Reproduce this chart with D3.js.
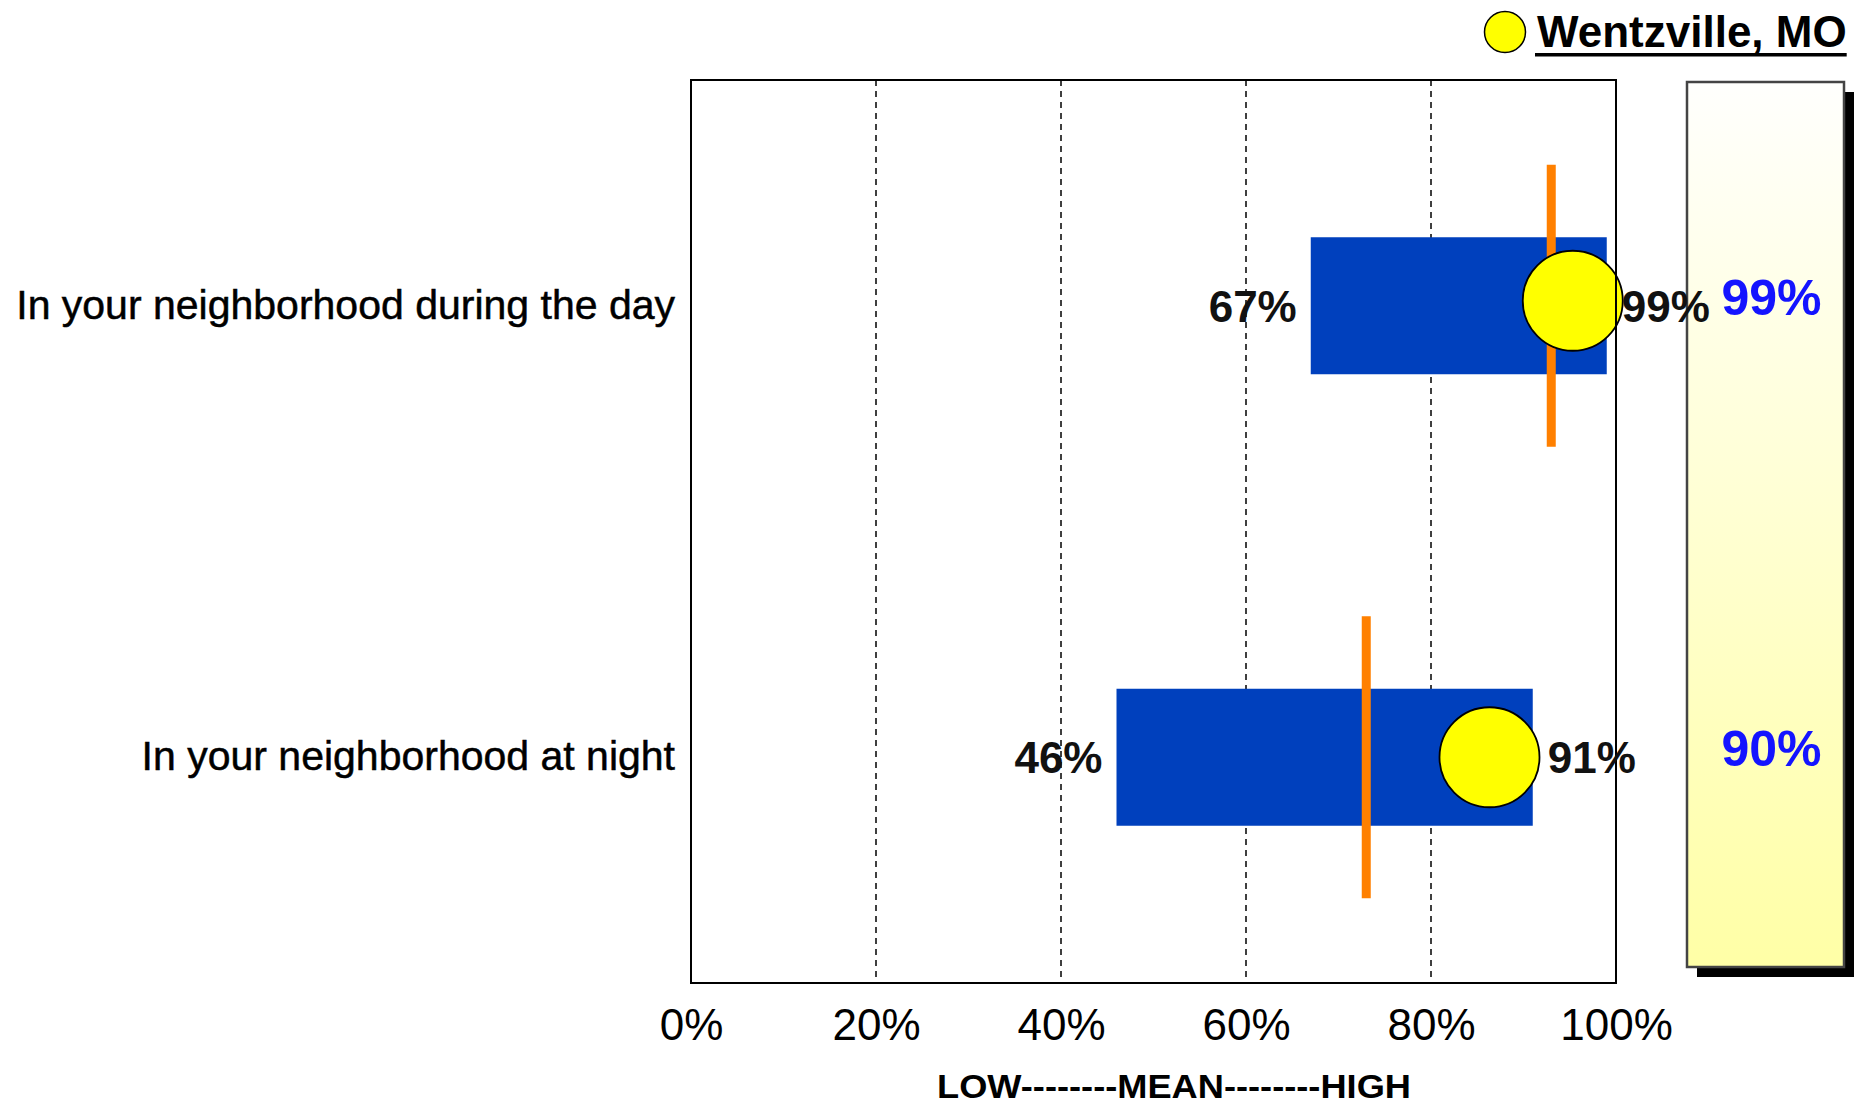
<!DOCTYPE html>
<html>
<head>
<meta charset="utf-8">
<script src="https://cdn.jsdelivr.net/npm/d3@7"></script>
<style>
html,body{margin:0;padding:0;background:#fff;}
svg{display:block;font-family:"Liberation Sans",Arial,Helvetica,sans-serif;}
</style>
</head>
<body>
<svg id="chart" width="1858" height="1106"></svg>
<script>
const categories = ["In your neighborhood during the day", "In your neighborhood at night"];
const lowValues = [67, 46];
const highValues = [99, 91];
const meanValues = [93, 73];
const wentzvilleValues = [99, 90];
const tickValues = [0, 20, 40, 60, 80, 100];
const gridValues = [20, 40, 60, 80];
const legendLabel = "Wentzville, MO";
const axisTitle = "LOW--------MEAN--------HIGH";

const svg = d3.select("#chart");
const plot = {left: 691, right: 1616, top: 80, bottom: 983};
const x = d3.scaleLinear().domain([0, 100]).range([plot.left, plot.right]);
const y = d3.scaleBand().domain(categories).range([plot.top, plot.bottom]).padding(0);
const cy = d => y(d) + y.bandwidth() / 2;
const barH = 137, meanHalf = 141, markerR = 50, markerShift = -34;
const font = '"Liberation Sans", Arial, sans-serif';

svg.append("rect").attr("width", 1858).attr("height", 1106).attr("fill", "#fff");

const defs = svg.append("defs");
const grad = defs.append("linearGradient").attr("id", "panelGrad")
  .attr("x1", 0).attr("y1", 0).attr("x2", 0).attr("y2", 1);
grad.append("stop").attr("offset", "0%").attr("stop-color", "#fffffd");
grad.append("stop").attr("offset", "100%").attr("stop-color", "#ffffa6");

// gridlines
svg.append("g").selectAll("line").data(gridValues).join("line")
  .attr("x1", d => x(d)).attr("x2", d => x(d))
  .attr("y1", plot.top).attr("y2", plot.bottom)
  .attr("stroke", "#000").attr("stroke-width", 1.5).attr("stroke-dasharray", "6,5");

const rows = categories.map((c, i) => ({c, low: lowValues[i], high: highValues[i], mean: meanValues[i], w: wentzvilleValues[i]}));

// bars
svg.append("g").selectAll("rect").data(rows).join("rect")
  .attr("x", d => x(d.low)).attr("width", d => x(d.high) - x(d.low))
  .attr("y", d => cy(d.c) - barH / 2).attr("height", barH)
  .attr("fill", "#0040bd");

// mean lines
svg.append("g").selectAll("rect").data(rows).join("rect")
  .attr("x", d => x(d.mean) - 4.5).attr("width", 9)
  .attr("y", d => cy(d.c) - meanHalf).attr("height", meanHalf * 2)
  .attr("fill", "#ff8000");

// markers
svg.append("g").selectAll("circle").data(rows).join("circle")
  .attr("cx", d => x(d.w) + markerShift).attr("cy", (d, i) => cy(d.c) - (i === 0 ? 5 : 0))
  .attr("r", markerR)
  .attr("fill", "#ffff00").attr("stroke", "#000").attr("stroke-width", 1.8);

// plot border
svg.append("rect").attr("x", plot.left).attr("y", plot.top)
  .attr("width", plot.right - plot.left).attr("height", plot.bottom - plot.top)
  .attr("fill", "none").attr("stroke", "#000").attr("stroke-width", 2);

// right panel
const panel = {x: 1687, y: 82, w: 157, h: 885};
svg.append("rect").attr("x", panel.x + 10).attr("y", panel.y + 10)
  .attr("width", panel.w).attr("height", panel.h).attr("fill", "#000");
svg.append("rect").attr("x", panel.x).attr("y", panel.y)
  .attr("width", panel.w).attr("height", panel.h)
  .attr("fill", "url(#panelGrad)").attr("stroke", "#444").attr("stroke-width", 2.5);
svg.append("g").selectAll("text").data(rows).join("text")
  .attr("x", panel.x + panel.w / 2 + 6).attr("y", d => cy(d.c) + 9)
  .attr("text-anchor", "middle").attr("font-size", 50).attr("font-weight", "bold")
  .attr("fill", "#1414ff").text(d => d.w + "%");

// low/high labels
svg.append("g").selectAll("text").data(rows).join("text")
  .attr("x", d => x(d.low) - 14).attr("y", d => cy(d.c) + 16)
  .attr("text-anchor", "end").attr("font-size", 44).attr("font-weight", "bold")
  .attr("fill", "#111").text(d => d.low + "%");
svg.append("g").selectAll("text").data(rows).join("text")
  .attr("x", d => x(d.high) + 15).attr("y", d => cy(d.c) + 16)
  .attr("text-anchor", "start").attr("font-size", 44).attr("font-weight", "bold")
  .attr("fill", "#111").text(d => d.high + "%");

// category labels
svg.append("g").selectAll("text").data(rows).join("text")
  .attr("x", plot.left - 16).attr("y", d => cy(d.c) + 13)
  .attr("text-anchor", "end").attr("font-size", 41)
  .attr("stroke", "#000").attr("stroke-width", 0.5)
  .attr("fill", "#000").text(d => d.c);

// x axis
const axis = svg.append("g").attr("transform", `translate(0,${plot.bottom})`)
  .call(d3.axisBottom(x).tickValues(tickValues).tickSize(0).tickPadding(0).tickFormat(d => d + "%"));
axis.select(".domain").remove();
axis.selectAll("text").attr("font-size", 44).attr("font-family", font)
  .attr("fill", "#000").attr("dy", null).attr("y", 57);

// axis title
svg.append("text").attr("x", 937).attr("y", 1098)
  .attr("font-size", 33).attr("font-weight", "bold")
  .attr("textLength", 474).attr("lengthAdjust", "spacingAndGlyphs")
  .attr("fill", "#000").text(axisTitle);

// legend
svg.append("circle").attr("cx", 1505).attr("cy", 32).attr("r", 20.5)
  .attr("fill", "#ffff00").attr("stroke", "#000").attr("stroke-width", 1.5);
const lt = svg.append("text").attr("x", 1537).attr("y", 47)
  .attr("font-size", 44).attr("font-weight", "bold").attr("fill", "#000").text(legendLabel);
const lw = lt.node().getComputedTextLength();
svg.append("rect").attr("x", 1535).attr("y", 53).attr("width", lw + 2).attr("height", 3.5).attr("fill", "#000");
</script>
</body>
</html>
